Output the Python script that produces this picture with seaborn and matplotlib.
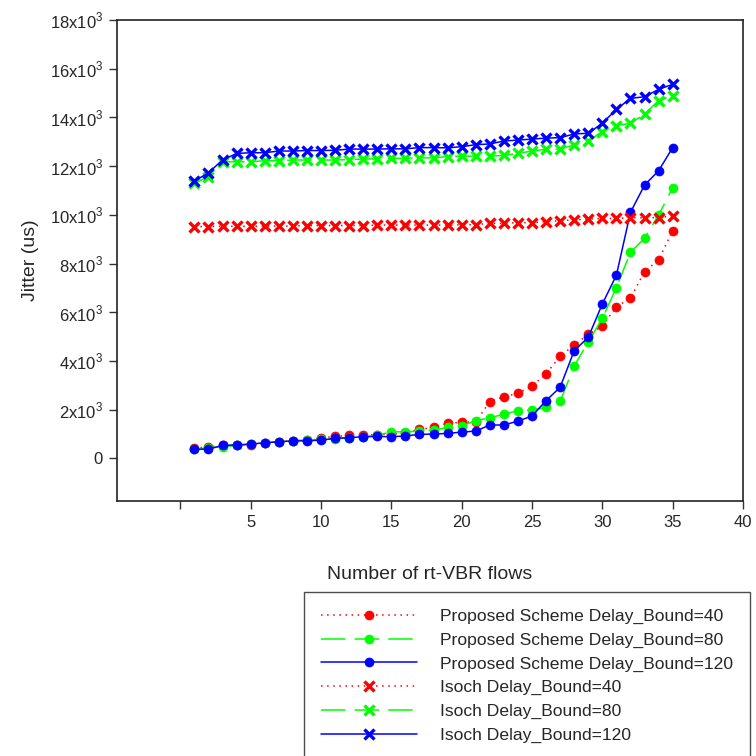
import matplotlib
matplotlib.use("Agg")
import matplotlib.pyplot as plt
import seaborn as sns

flows = [1, 2, 3, 4, 5, 6, 7, 8, 9, 10, 11, 12, 13, 14, 15, 16, 17, 18,
         19, 20, 21, 22, 23, 24, 25, 26, 27, 28, 29, 30, 31, 32, 33, 34, 35]

prop_40 = [430, 470, 530, 560, 560, 630, 690, 720, 760, 840, 900, 940, 950, 980,
           1000, 1050, 1190, 1270, 1440, 1480, 1500, 2330, 2530, 2670, 2970, 3460,
           4200, 4650, 5090, 5430, 6230, 6570, 7670, 8150, 9350]
prop_80 = [380, 440, 480, 530, 580, 650, 690, 720, 760, 780, 810, 840, 870, 950,
           1090, 1090, 1120, 1160, 1270, 1330, 1550, 1670, 1810, 1960, 1980, 2090,
           2340, 3790, 4790, 5750, 7010, 8460, 9040, 9990, 11110]
prop_120 = [370, 380, 530, 550, 590, 640, 680, 720, 720, 750, 820, 850, 890, 900,
            890, 920, 985, 1000, 1025, 1080, 1120, 1370, 1370, 1530, 1740, 2370,
            2920, 4420, 4970, 6340, 7520, 10100, 11220, 11810, 12760]
isoch_40 = [9520, 9520, 9530, 9530, 9530, 9540, 9540, 9540, 9560, 9560, 9560, 9560,
            9560, 9580, 9580, 9580, 9580, 9580, 9580, 9590, 9600, 9650, 9650, 9680,
            9680, 9720, 9760, 9790, 9830, 9850, 9850, 9880, 9880, 9890, 9950]
isoch_80 = [11290, 11570, 12180, 12180, 12180, 12220, 12220, 12250, 12250, 12250,
            12250, 12270, 12290, 12300, 12320, 12320, 12340, 12340, 12390, 12410,
            12410, 12410, 12440, 12520, 12620, 12690, 12700, 12870, 13030, 13420,
            13660, 13760, 14130, 14690, 14890]
isoch_120 = [11380, 11730, 12250, 12520, 12550, 12550, 12620, 12620, 12640, 12640,
             12650, 12700, 12700, 12700, 12710, 12710, 12760, 12760, 12750, 12800,
             12880, 12910, 13030, 13070, 13110, 13150, 13170, 13320, 13350, 13760,
             14330, 14780, 14850, 15150, 15360]

labels = ["Proposed Scheme Delay_Bound=40", "Proposed Scheme Delay_Bound=80",
          "Proposed Scheme Delay_Bound=120", "Isoch Delay_Bound=40",
          "Isoch Delay_Bound=80", "Isoch Delay_Bound=120"]

x_ticks = [0, 5, 10, 15, 20, 25, 30, 35, 40]
x_tick_labels = ["", "5", "10", "15", "20", "25", "30", "35", "40"]
y_ticks = [0, 2000, 4000, 6000, 8000, 10000, 12000, 14000, 16000, 18000]
y_tick_labels = ["0"] + [r"%dx10$^{\mathregular{3}}$" % v for v in [2, 4, 6, 8, 10, 12, 14, 16, 18]]

sns.set_style("ticks")
plt.rcParams["font.family"] = ["Liberation Sans", "DejaVu Sans"]
plt.rcParams["mathtext.fontset"] = "custom"
plt.rcParams["mathtext.rm"] = "Liberation Sans"

fig = plt.figure(figsize=(7.56, 7.56), dpi=100)
ax = fig.add_axes([117 / 756, 1 - 501 / 756, (743 - 117) / 756, (501 - 20) / 756])

RED, GREEN, BLUE = "#ff0000", "#00ff00", "#0000ff"
dotted = (0, (1, 3))
dashed = (0, (16, 6))

series = [
    (prop_40, RED, dotted, "o"),
    (prop_80, GREEN, dashed, "o"),
    (prop_120, BLUE, "-", "o"),
    (isoch_40, RED, dotted, "x"),
    (isoch_80, GREEN, dashed, "x"),
    (isoch_120, BLUE, "-", "x"),
]

for (vals, col, ls, mk), lab in zip(series, labels):
    kw = dict(marker=mk, markersize=6.5, markeredgecolor=col, markerfacecolor=col)
    if mk == "x":
        kw.update(markersize=6.5, markeredgewidth=2.4)
    else:
        kw.update(markeredgewidth=0.5)
    sns.lineplot(x=flows, y=vals, ax=ax, color=col, linestyle=ls, linewidth=1.1,
                 label=lab, **kw)

ax.set_xlim(-4.5, 40)
ax.set_ylim(-1750, 18000)
ax.set_xticks(x_ticks)
ax.set_xticklabels(x_tick_labels, fontsize=12)
ax.set_yticks(y_ticks)
ax.set_yticklabels(y_tick_labels, fontsize=12)
ax.tick_params(direction="out", length=6, width=1, color="#333333", pad=4)
for s in ax.spines.values():
    s.set_visible(True)
    s.set_color("#222222")
    s.set_linewidth(1.2)

ax.set_xlabel("Number of rt-VBR flows", fontsize=14, labelpad=26)
ax.set_ylabel("Jitter (us)", fontsize=14, labelpad=8)

handles, labs = ax.get_legend_handles_labels()
ax.get_legend().remove()
leg = fig.legend(handles, labs, loc="upper left",
                 bbox_to_anchor=(304 / 756, 1 - 592 / 756),
                 fontsize=12.6, handlelength=5.5, handletextpad=1.35,
                 numpoints=1, frameon=True, fancybox=False, borderpad=0.95,
                 labelspacing=0.48, borderaxespad=0)
leg.get_frame().set_edgecolor("#222222")
leg.get_frame().set_linewidth(1.0)

fig.savefig("out.png", dpi=100)
